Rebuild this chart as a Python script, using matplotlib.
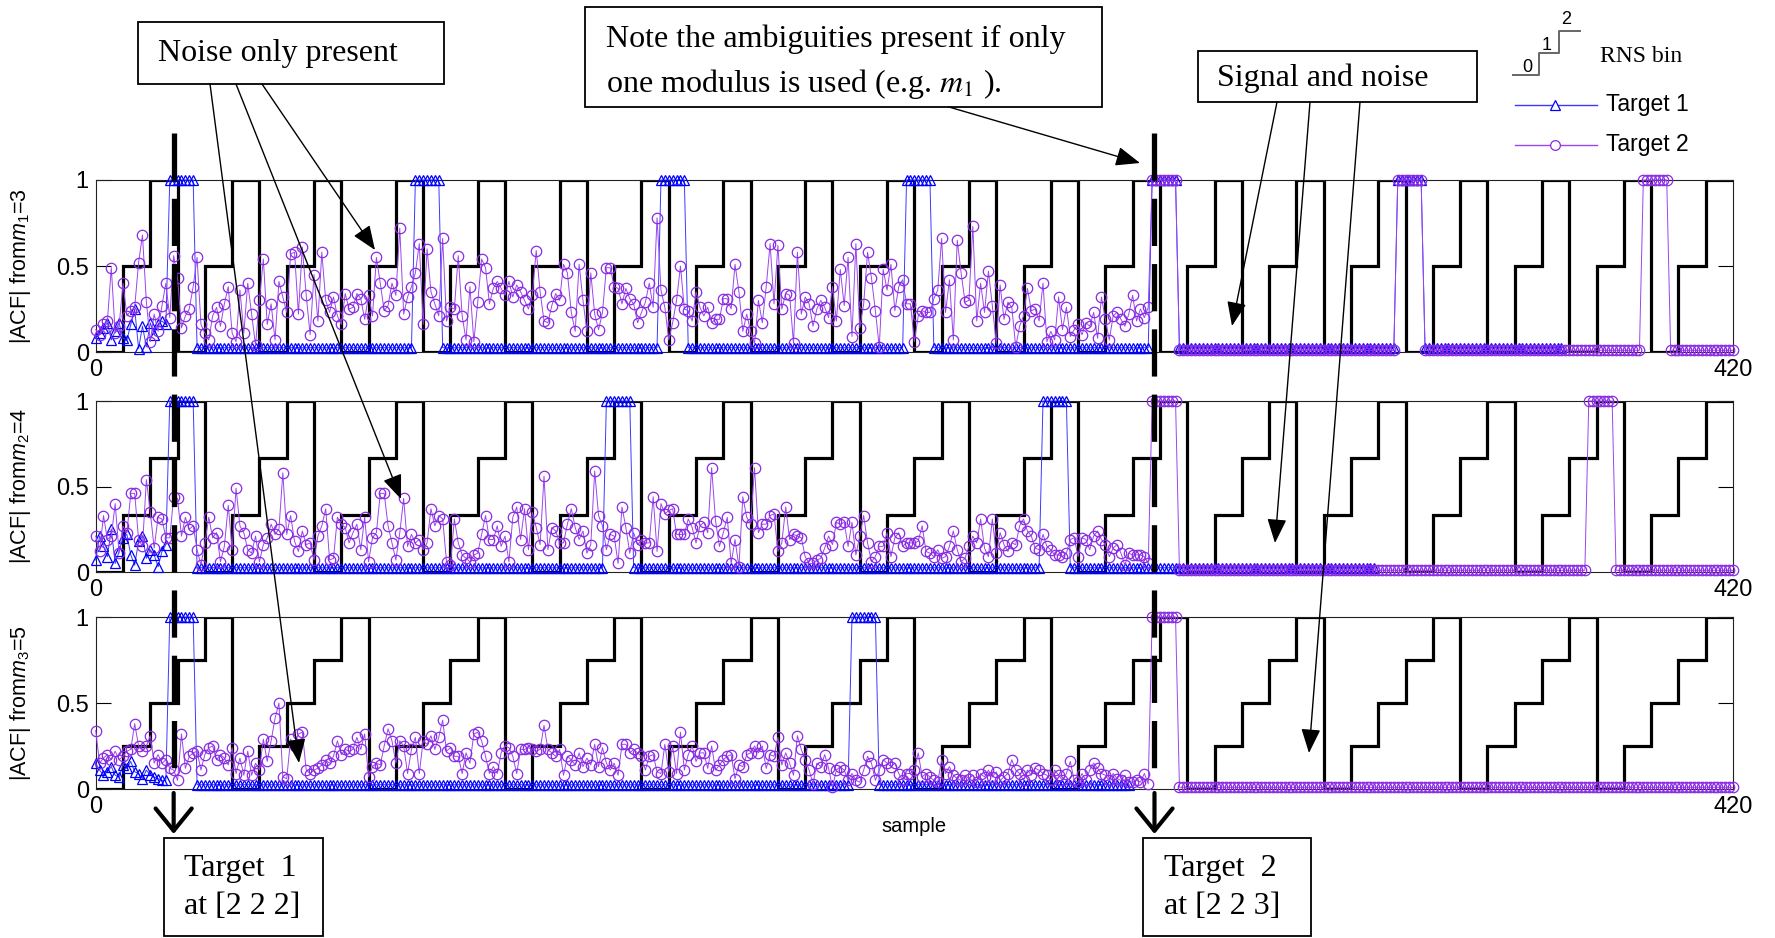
import numpy as np
import matplotlib
matplotlib.use('Agg')
import matplotlib.pyplot as plt
from matplotlib.patches import Rectangle, FancyArrowPatch
from matplotlib.lines import Line2D
import matplotlib.transforms as mtransforms

plt.rcParams['font.family'] = ['Liberation Sans', 'DejaVu Sans']
plt.rcParams['mathtext.fontset'] = 'custom'
plt.rcParams['mathtext.rm'] = 'Liberation Sans'
plt.rcParams['mathtext.it'] = 'Liberation Sans:italic'
plt.rcParams['lines.scale_dashes'] = False
plt.rcParams['axes.linewidth'] = 0.8

# ---------------- data ----------------
n_samples = 420
bin_width = 7                     # samples per RNS range bin
moduli = [3, 4, 5]
ylabels = [r'|ACF| from$m_1$=3', r'|ACF| from$m_2$=4', r'|ACF| from$m_3$=5']
xtick_vals = [0, 420]
ytick_vals = [0, 0.5, 1]
ytick_labels = ['0', '0.5', '1']

peak_len = 7
t1_floor = 0.025
t2_floor = 0.01
target_samples = [20, 271.6]      # detected target positions (dashed markers)

# Target 1 ACF: noise at start, then plateaus of 1 at ambiguous positions
t1_noise = [
    [.08, .11, .14, .17, .07, .12, .17, .08, .07, .16, .25, .02, .15, .03, .17, .10, .16, .18, .16],
    [.07, .21, .15, .09, .25, .05, .12, .20, .22, .10, .04, .18, .21, .08, .13, .10, .03, .12, .16],
    [.15, .11, .08, .10, .13, .08, .07, .14, .12, .16, .10, .09, .06, .11, .08, .07, .06, .05, .05],
]
t1_peaks = [[19, 82, 145, 208, 271, 334], [19, 131, 243], [19, 194]]
t1_last = [376, 328, 265]

# Target 2 ACF: noise up to sample 270, then plateaus of 1
t2_noise_m1 = [
    .13, .10, .16, .18, .49, .11, .15, .40, .21, .24,
    .26, .52, .68, .29, .06, .22, .12, .27, .40, .20,
    .56, .43, .14, .21, .25, .38, .55, .16, .11, .07,
    .21, .26, .15, .28, .38, .11, .06, .36, .11, .40,
    .22, .04, .30, .54, .16, .28, .07, .41, .32, .23,
    .57, .58, .22, .61, .33, .10, .45, .18, .58, .30,
    .23, .32, .21, .16, .34, .25, .26, .34, .31, .19,
    .33, .21, .55, .40, .24, .27, .40, .33, .72, .22,
    .32, .38, .46, .63, .16, .60, .35, .28, .21, .66,
    .18, .26, .25, .56, .21, .07, .38, .06, .29, .54,
    .49, .28, .37, .41, .37, .33, .41, .32, .39, .35,
    .30, .25, .33, .59, .35, .18, .17, .27, .34, .30,
    .51, .46, .23, .12,
    .51, .30, .12, .46, .22, .13,
    .23, .49, .49, .38, .37, .28, .37, .31, .28, .17,
    .23, .29, .40, .26, .78, .36, .26, .07, .17, .30,
    .50, .25, .24, .18, .35, .26, .21, .26, .17, .19,
    .19, .31, .31, .25, .51, .35, .12, .22, .12, .05,
    .30, .17, .38, .63, .28, .62, .25, .34, .33, .05,
    .58, .22, .32, .28, .15, .25, .30, .26, .20, .38,
    .18, .48, .27, .55, .09, .63, .14, .28, .58, .43,
    .24, .03, .48, .36, .51, .24, .38, .42, .28, .28,
    .06, .21, .24, .23, .23, .31, .36, .66, .23, .42,
    .07, .65, .46, .29, .30, .73,
    .18, .40, .23, .47, .27, .05, .39, .19, .29, .26,
    .03, .15, .21, .37, .24, .25, .18, .40, .06, .12,
    .07, .32, .13, .26, .09, .13, .16, .10, .17, .15,
    .23, .08, .32, .19, .07, .21, .23, .19, .15, .22,
    .33, .18, .25, .20, .26,
]
t2_noise_m2 = [
    .21, .12, .33, .19, .21, .40, .11, .27, .23, .46,
    .46, .19, .15, .54, .35, .14, .32, .31, .20, .20,
    .44, .43, .21, .32, .25, .27, .13, .04, .17, .32,
    .20, .23, .06, .15, .39, .13, .49, .27, .23, .13,
    .11, .21, .06, .16, .20, .28, .22, .25, .58, .22,
    .33, .18, .12, .24, .16, .17, .07, .21, .27, .37,
    .07, .08, .32, .28, .26, .17, .23, .28, .13, .32,
    .06, .20, .23, .46, .46, .27, .17, .07, .23, .43,
    .15, .22, .17, .19, .13, .17, .37, .27, .33, .31,
    .06, .04, .31, .17, .10, .08, .06, .10, .11, .22,
    .33, .19, .19, .27, .15, .21, .06, .32, .38, .19,
    .37, .13, .35, .26, .16, .56, .13, .26, .24, .17,
    .17, .28, .37, .26,
    .19, .24, .11, .16, .59, .33, .27, .13, .22, .21,
    .05, .38, .26, .11, .23, .16, .19, .17, .17, .44,
    .12, .40, .34, .36, .37, .22, .22, .22, .31, .26,
    .17, .27, .29, .23, .61, .30, .15, .23, .32, .05,
    .19, .03, .44, .32, .28, .61, .23, .28, .28, .33,
    .34, .12, .17, .38, .19, .22, .21, .20, .09, .05,
    .05, .07, .08, .14, .21, .16, .29, .28, .29, .15,
    .29, .10, .21, .33, .17, .06, .09, .15, .15, .23,
    .09, .20, .23, .15, .17, .17, .17, .18, .27, .12,
    .11, .09, .13, .08, .09, .15, .24, .13, .06, .08,
    .15, .21, .17, .31, .14, .09, .31, .11, .23, .16,
    .12, .17, .16, .27, .31, .24, .21, .14, .13, .22,
    .15, .13, .10, .10, .09, .11, .19, .20, .09, .20,
    .19, .13, .21, .24, .19, .16, .09, .14, .16, .11,
    .04, .11, .10, .10, .10, .09, .05,
]
t2_noise_m3 = [
    .34, .15, .18, .20, .17, .22, .17, .19, .22, .23,
    .38, .25, .22, .25, .31, .15, .20, .15, .17, .12,
    .11, .05, .32, .12, .19, .21, .22, .11, .20, .24,
    .25, .17, .20, .18, .14, .24, .09, .18, .08, .22,
    .08, .15, .11, .29, .16, .28, .41, .50, .07, .06,
    .29, .25, .32, .33, .11, .09, .11, .12, .14, .17,
    .15, .19, .28, .20, .23, .22, .23, .30, .23, .32,
    .07, .13, .15, .14, .25, .35, .28, .15, .28, .25,
    .09, .23, .30, .09, .28, .26, .31, .23, .30, .40,
    .22, .24, .19, .19, .09, .21, .15, .32, .33, .28,
    .19, .09, .13, .09, .21, .25, .24, .19, .09, .23,
    .23, .24, .23, .22, .23, .37, .23, .21, .19, .23,
    .08, .19, .17, .14,
    .21, .13, .18, .14, .26, .13, .24, .15, .11, .15,
    .08, .26, .26, .21, .23, .21, .19, .11, .19, .20,
    .10, .09, .26, .10, .25, .09, .33, .11, .20, .25,
    .16, .21, .21, .12, .25, .11, .14, .17, .19, .20,
    .06, .14, .13, .20, .21, .25, .21, .25, .12, .20,
    .19, .30, .14, .21, .15, .08, .31, .23, .17, .11,
    .03, .15, .13, .20, .12, .01, .11, .13, .11, .05,
    .09, .05, .04, .11, .19, .15, .05, .11, .17, .15,
    .13, .15, .09, .05, .09, .09, .11, .21, .07, .09,
    .07, .05, .04, .17, .09, .13, .08, .06, .05, .08,
    .06, .08, .04, .09, .07, .11, .07, .10, .05, .07,
    .09, .17, .11, .09, .05, .11, .08, .12, .11, .09,
    .08, .05, .11, .08, .05, .09, .16, .05, .04, .09,
    .05, .11, .15, .12, .09, .08, .05, .09, .06, .05,
    .08, .04, .04, .05, .04, .09, .03,
]
t2_noise = [t2_noise_m1, t2_noise_m2, t2_noise_m3]
t2_peaks = [[271, 334, 397], [271, 383], [271]]
t2_last = [420, 420, 420]

# ---------------- layout helpers ----------------
W, H = 1775, 938
fig = plt.figure(figsize=(W / 100, H / 100), dpi=100)
fig.patch.set_facecolor('white')


def fx(x):
    return x / W


def fy(y):
    return 1 - y / H


ax_left, ax_right = 95.7, 1733
panel_px = [(180, 352), (401, 572), (617, 789)]

BLUE = '#0000ff'
BLUE_LINE = '#3a3aff'
PURPLE = '#8a2be2'
PURPLE_LINE = '#9b45ee'

axes = []
for i, (top, bot) in enumerate(panel_px):
    ax = fig.add_axes([fx(ax_left), fy(bot), (ax_right - ax_left) / W, (bot - top) / H])
    axes.append(ax)
    m = moduli[i]
    edges = np.arange(0, n_samples + bin_width, bin_width)
    levels = (np.arange(len(edges) - 1) % m) / (m - 1)
    ax.stairs(levels, edges, baseline=None, color='black', lw=2.3, zorder=2)

    # target 1
    x1 = np.arange(t1_last[i] + 1)
    y1 = np.full(x1.size, t1_floor)
    y1[:len(t1_noise[i])] = t1_noise[i]
    for s in t1_peaks[i]:
        y1[s:s + peak_len] = 1.0
    ax.plot(x1, y1, color=BLUE_LINE, lw=0.7, marker='^', ms=7, mfc='none',
            mec=BLUE, mew=0.9, zorder=3, clip_on=False)

    # target 2
    x2 = np.arange(t2_last[i] + 1)
    y2 = np.full(x2.size, t2_floor)
    y2[:len(t2_noise[i])] = t2_noise[i]
    for s in t2_peaks[i]:
        y2[s:s + peak_len] = 1.0
    ax.plot(x2, y2, color=PURPLE_LINE, lw=0.7, marker='o', ms=7.5, mfc='none',
            mec=PURPLE, mew=0.9, zorder=4, clip_on=False)

    ax.set_xlim(0, n_samples)
    ax.set_ylim(0, 1)
    ax.set_yticks(ytick_vals)
    ax.set_yticklabels(ytick_labels)
    ax.set_xticks(xtick_vals)
    ax.set_xticklabels([str(v) for v in xtick_vals])
    ax.tick_params(axis='y', direction='in', length=11, width=0.8, right=True,
                   labelsize=17, pad=5)
    ax.tick_params(axis='x', direction='in', length=0, labelsize=17, pad=5)
    for sp in ax.spines.values():
        sp.set_color('#222222')
        sp.set_linewidth(0.8)
    fig.text(fx(21), fy((top + bot) / 2), ylabels[i], rotation=90,
             ha='center', va='center', fontsize=15.5)

fig.text(fx(914), fy(827), 'sample', ha='center', va='center', fontsize=14.5)

# ---------------- annotations ----------------
SERIF = ['Liberation Serif', 'DejaVu Serif']


def box(x0, y0, x1, y1):
    r = Rectangle((fx(x0), fy(y1)), (x1 - x0) / W, (y1 - y0) / H,
                  transform=fig.transFigure, facecolor='white',
                  edgecolor='black', lw=1.3, zorder=8)
    fig.add_artist(r)


def arrow(p0, p1):
    a = FancyArrowPatch((fx(p0[0]), fy(p0[1])), (fx(p1[0]), fy(p1[1])),
                        transform=fig.transFigure,
                        arrowstyle='-|>,head_length=0.75,head_width=0.3',
                        mutation_scale=20, color='black', lw=1.0,
                        shrinkA=0, shrinkB=0, zorder=9)
    fig.add_artist(a)


def serif_text(x, y, s, size=23, ha='left', **kw):
    fig.text(fx(x), fy(y), s, ha=ha, va='center', fontsize=size,
             family=SERIF, zorder=10, **kw)


# dashed target markers
trans = mtransforms.blended_transform_factory(axes[0].transData, fig.transFigure)
for xs in target_samples:
    fig.add_artist(Line2D([xs, xs], [fy(133), fy(776)], transform=trans,
                          color='black', lw=3.8, linestyle=(0, (34, 13)),
                          zorder=7, solid_capstyle='butt'))
    fig.add_artist(FancyArrowPatch((xs, fy(793)), (xs, fy(834)), transform=trans,
                                   arrowstyle='->,head_length=0.8,head_width=0.65',
                                   mutation_scale=20, lw=3.0, color='black',
                                   shrinkA=0, shrinkB=0, zorder=7))

# "Noise only present"
box(138, 22, 444, 84)
serif_text(158, 53, 'Noise only present')
arrow((262, 84), (375, 250))
arrow((236, 84), (401, 499))
arrow((210, 84), (299, 763))

# "Note the ambiguities ..."
box(585, 7, 1102, 107)
serif_text(606, 39, 'Note the ambiguities present if only')
serif_text(606, 84, r'one modulus is used (e.g. $m_1$ ).', math_fontfamily='stix')
arrow((949, 107), (1140, 163))

# "Signal and noise"
box(1198, 51, 1477, 102)
serif_text(1217, 78, 'Signal and noise')
arrow((1277, 102), (1232, 326))
arrow((1310, 102), (1275, 543))
arrow((1360, 102), (1309, 753))

# target boxes
box(164, 838, 323, 936)
serif_text(184, 868, 'Target  1')
serif_text(184, 906, 'at [2 2 2]')
box(1143, 838, 1311, 936)
serif_text(1164, 868, 'Target  2')
serif_text(1164, 906, 'at [2 2 3]')

# ---------------- legend ----------------
stair_x = [1513, 1539, 1539, 1559, 1559, 1580]
stair_y = [75, 75, 53, 53, 31, 31]
fig.add_artist(Line2D([fx(v) for v in stair_x], [fy(v) for v in stair_y],
                      transform=fig.transFigure, color='#666666', lw=1.4))
for lab, (lx, ly) in zip(['0', '1', '2'], [(1527, 67), (1547, 45), (1566, 20)]):
    fig.text(fx(lx), fy(ly), lab, ha='center', va='center', fontsize=13)
fig.text(fx(1600), fy(57), 'RNS bin', ha='left', va='center', fontsize=17,
         family=SERIF)

for yy, col, lcol, mk, lab in [(105, BLUE, BLUE_LINE, '^', 'Target 1'),
                               (145, PURPLE, PURPLE_LINE, 'o', 'Target 2')]:
    fig.add_artist(Line2D([fx(1515), fx(1597)], [fy(yy), fy(yy)],
                          transform=fig.transFigure, color=lcol, lw=1.0))
    fig.add_artist(Line2D([fx(1555)], [fy(yy)], transform=fig.transFigure,
                          marker=mk, ms=7, mfc='white', mec=col, mew=0.9,
                          linestyle='none'))
    fig.text(fx(1606), fy(yy), lab, ha='left', va='center', fontsize=16.5)

fig.savefig('out.png', dpi=100, facecolor='white')
